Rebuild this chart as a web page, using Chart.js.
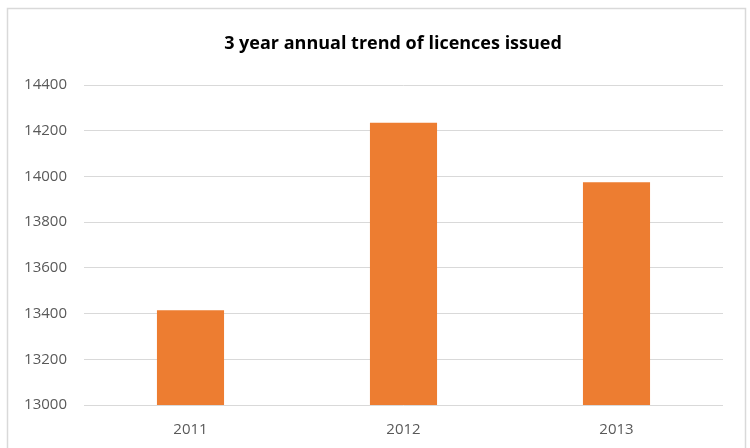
<!DOCTYPE html>
<html>
<head>
<meta charset="utf-8">
<script src="https://cdn.jsdelivr.net/npm/chart.js@4/dist/chart.umd.min.js"></script>
<style>
html,body{margin:0;padding:0;background:#fff;}
#wrap{position:relative;width:750px;height:448px;}
</style>
</head>
<body>
<div id="wrap"><canvas id="c" width="750" height="448"></canvas></div>
<script>
const categories = ['2011', '2012', '2013'];
const licences = [13415, 14235, 13974];
const yTicks = [13000, 13200, 13400, 13600, 13800, 14000, 14200, 14400];
const titleText = '3 year annual trend of licences issued';

const frame = {
  id: 'frame',
  beforeDraw(chart) {
    const ctx = chart.ctx;
    ctx.save();
    ctx.fillStyle = '#fff';
    ctx.fillRect(0, 0, chart.width, chart.height);
    ctx.strokeStyle = '#d9d9d9';
    ctx.lineWidth = 1.5;
    ctx.strokeRect(7.5, 8.5, 738, 460);
    ctx.fillStyle = '#000';
    ctx.font = 'bold 18px "Open Sans"';
    ctx.textAlign = 'center';
    ctx.textBaseline = 'middle';
    ctx.fillText(titleText, 393, 44);
    ctx.restore();
  }
};

new Chart(document.getElementById('c'), {
  type: 'bar',
  data: {
    labels: categories,
    datasets: [{
      data: licences,
      backgroundColor: '#ED7D31',
      borderWidth: 0,
      categoryPercentage: 1,
      barPercentage: 0.315
    }]
  },
  options: {
    responsive: false,
    animation: false,
    devicePixelRatio: 1,
    layout: { padding: { left: 0, right: 27, top: 85, bottom: 0 } },
    plugins: {
      legend: { display: false },
      tooltip: { enabled: false },
      title: { display: false }
    },
    scales: {
      x: {
        grid: { display: false },
        border: { display: false },
        ticks: { color: '#595959', font: { family: 'Open Sans', size: 15 }, padding: 8 },
        afterFit(s) { s.height = 43; }
      },
      y: {
        min: 13000,
        max: 14400,
        afterBuildTicks(s) { s.ticks = yTicks.map(v => ({ value: v })); },
        grid: { color: '#d9d9d9', lineWidth: 1, drawTicks: false },
        border: { display: false },
        ticks: {
          color: '#595959',
          font: { family: 'Open Sans', size: 15 },
          padding: 17,
          callback: (v) => String(v)
        },
        afterFit(s) { s.width = 84; }
      }
    }
  },
  plugins: [frame]
});
</script>
</body>
</html>
